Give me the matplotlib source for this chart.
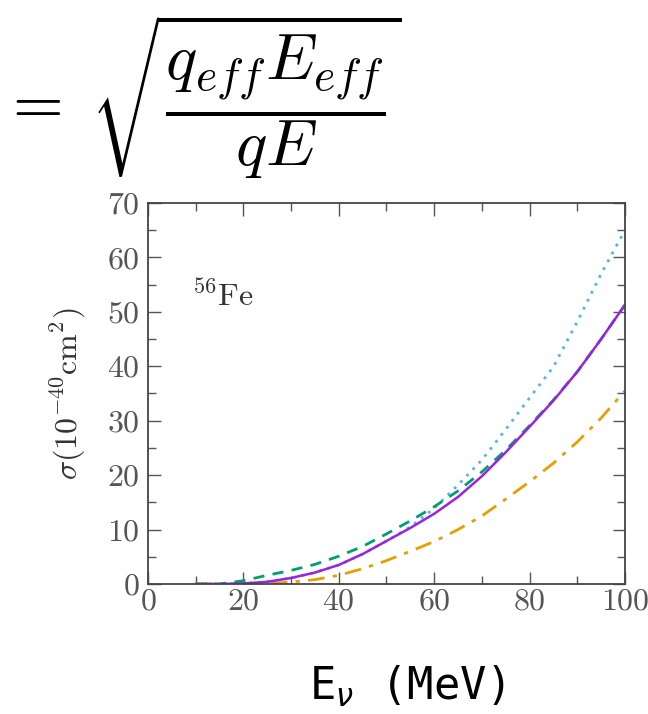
import matplotlib
matplotlib.use("Agg")
import matplotlib.pyplot as plt
from matplotlib.ticker import MultipleLocator

plt.rcParams["font.family"] = "serif"
plt.rcParams["font.serif"] = ["cmr10"]
plt.rcParams["mathtext.fontset"] = "cm"
plt.rcParams["axes.formatter.use_mathtext"] = True

# neutrino energy grid (MeV)
energy = [10, 15, 20, 25, 30, 35, 40, 45, 50, 55, 60, 65, 70, 75, 80, 85, 90, 95, 100]

# cross sections in 1e-40 cm^2
sigma_solid = [0, 0, 0.1, 0.4, 1.1, 2.1, 3.5, 5.5, 7.9, 10.3, 12.9, 16.0, 19.8, 24.2, 28.9, 33.7, 39.0, 45.0, 51.3]
sigma_dashed = [0, 0, 0.6, 1.6, 2.5, 3.6, 5.1, 6.9, 9.2, 11.6, 14.2, 17.1, 20.6, 24.6, 29.1, 33.8, 39.0, 45.0, 51.3]
sigma_dotted = [0, 0, 0.1, 0.4, 1.1, 2.1, 3.5, 5.5, 7.9, 10.5, 13.9, 18.2, 22.8, 28.4, 34.2, 39.9, 48.2, 57.0, 65.0]
sigma_dashdot = [0, 0, 0, 0.1, 0.35, 0.8, 1.6, 2.8, 4.3, 6.0, 7.8, 10.0, 12.5, 15.6, 18.8, 22.2, 26.1, 30.5, 35.5]

fig = plt.figure(figsize=(6.48, 7.14), dpi=100)
ax = fig.add_axes([0.2284, 0.1821, 0.7361, 0.5336])

ax.plot(energy, sigma_dotted, color="#56b4e9", lw=2, ls=(0, (1, 2.2)))
ax.plot(energy, sigma_dashdot, color="#e69f00", lw=2, ls=(0, (6, 3, 1.5, 3)))
ax.plot(energy, sigma_dashed, color="#009e73", lw=2, ls=(0, (4, 3)))
ax.plot(energy, sigma_solid, color="#9a22e0", lw=1.8)

ax.set_xlim(0, 100)
ax.set_ylim(0, 70)
ax.xaxis.set_major_locator(MultipleLocator(20))
ax.xaxis.set_minor_locator(MultipleLocator(10))
ax.yaxis.set_major_locator(MultipleLocator(10))
ax.yaxis.set_minor_locator(MultipleLocator(5))
ax.tick_params(which="both", direction="in", top=True, right=True,
               colors="#555555", labelcolor="#555555", labelsize=23)
ax.tick_params(which="major", length=9, width=1)
ax.tick_params(which="minor", length=6, width=1)
ax.tick_params(axis="y", pad=6)
ax.tick_params(axis="x", pad=3)
for s in ax.spines.values():
    s.set_color("#444444")
    s.set_linewidth(1.3)

ax.set_ylabel(r"$\sigma(10^{-40}\mathrm{cm}^2)$", fontsize=23, color="#333333", labelpad=14)
ax.text(9.2, 51, r"$^{56}\mathrm{Fe}$", fontsize=23, color="#333333")

# ratio formula above the panel
fig.text(0.002, 0.865, r"$=\;\sqrt{\dfrac{q_{eff}E_{eff}}{qE}}$", fontsize=47, va="center")

fig.text(0.628, 0.02, r"E$_\nu$ (MeV)", fontsize=31.5, ha="center", va="baseline",
         family="DejaVu Sans Mono", math_fontfamily="dejavusans")

fig.savefig("out.png", dpi=100)
